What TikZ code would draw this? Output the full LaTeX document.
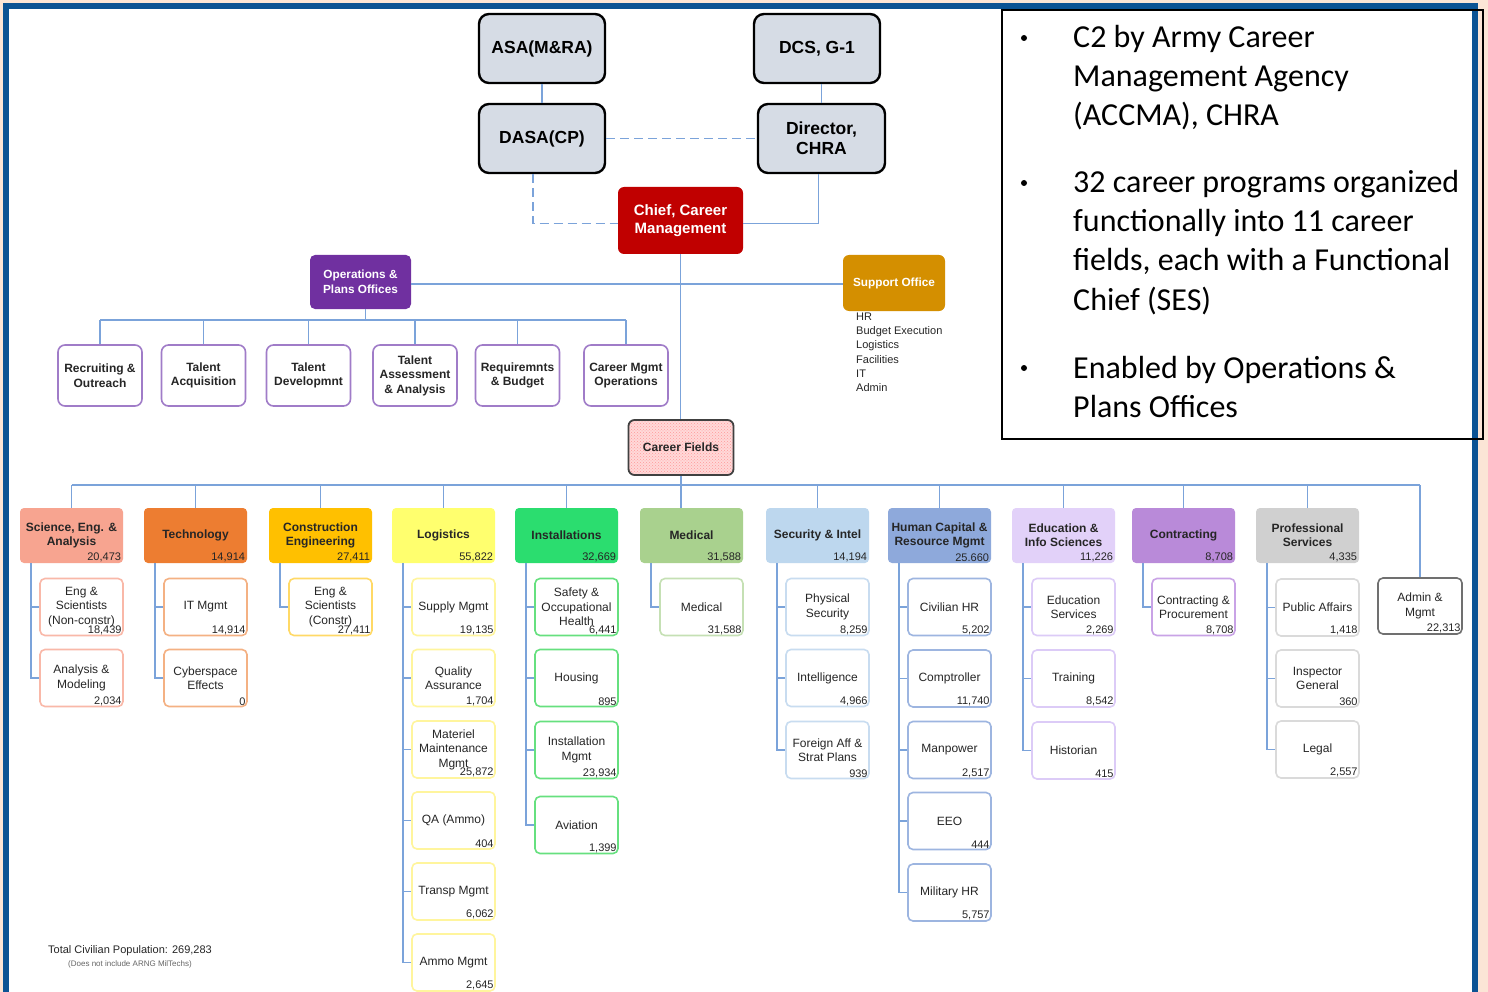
\documentclass[tikz,border=0pt]{standalone}
\usepackage{fontspec}
\setmainfont{Liberation Sans}
\newfontfamily\calfont{Carlito}
\usetikzlibrary{patterns}
\definecolor{peach}{HTML}{FBE5D6}
\definecolor{frameblue}{HTML}{0B5394}
\definecolor{lnc}{HTML}{7BA3DA}
\definecolor{topgray}{HTML}{D6DCE5}
\definecolor{chiefred}{HTML}{C00000}
\definecolor{opspurple}{HTML}{7030A0}
\definecolor{opsborder}{HTML}{A07CC8}
\definecolor{supgold}{HTML}{D48F00}
\definecolor{cfpink}{HTML}{FFD9D9}
\definecolor{txt}{HTML}{262626}
% header fills / child borders
\definecolor{seaH}{HTML}{F7A490}\definecolor{seaC}{HTML}{F9B8A8}
\definecolor{tecH}{HTML}{ED7D31}\definecolor{tecC}{HTML}{F4B183}
\definecolor{ceH}{HTML}{FFC000}\definecolor{ceC}{HTML}{FFD966}
\definecolor{logH}{HTML}{FFFF6E}\definecolor{logC}{HTML}{FFF59D}
\definecolor{insH}{HTML}{2BDD6F}\definecolor{insC}{HTML}{66E07F}
\definecolor{medH}{HTML}{A9D18E}\definecolor{medC}{HTML}{C5E0B4}
\definecolor{siH}{HTML}{BDD7EE}\definecolor{siC}{HTML}{C8DCF0}
\definecolor{hcH}{HTML}{8EA9DB}\definecolor{hcC}{HTML}{9DB5E0}
\definecolor{eduH}{HTML}{E2D1F9}\definecolor{eduC}{HTML}{DCCBF7}
\definecolor{conH}{HTML}{B98AD9}\definecolor{conC}{HTML}{C9A3E6}
\definecolor{psH}{HTML}{D0D0D0}\definecolor{psC}{HTML}{DADADA}
\definecolor{admC}{HTML}{707070}

\newcommand{\hdrbox}[5]{% name, left x, fill, title, number
  \node[hdr, fill=#3] (#1) at (#2+51.5, 535.5) {#4};
  \node[num] at (#1.south east) {#5};
  \draw[lnk] (#1.north |- bus) -- (#1.north);
}
\newcommand{\subbox}[7]{% name, parent, parent left x, centre y, border, title, number
  \node[sub, draw=#5] (#1) at (#3+61.5, #4) {#6};
  \node[num] at (#1.south east) {#7};
  \draw[lnk] ([xshift=11pt]#2.south west) |- (#1.west);
}

\begin{document}
\begin{tikzpicture}[x=1pt,y=-1pt,
  lnk/.style={draw=lnc, line width=1.8pt},
  topbox/.style={draw=black, line width=2.4pt, fill=topgray, rounded corners=10pt,
     minimum width=126pt, minimum height=69pt, align=center, inner sep=0pt,
     font=\bfseries\fontsize{17.5}{20}\selectfont, text=black},
  hdr/.style={rounded corners=4pt, minimum width=103pt, minimum height=55pt,
     align=center, inner sep=0pt, font=\bfseries\fontsize{12}{14}\selectfont, text=txt},
  sub/.style={fill=white, rounded corners=5pt, line width=1.6pt, minimum width=83pt,
     minimum height=57pt, align=center, inner sep=0pt,
     font=\fontsize{12}{14.5}\selectfont, text=txt},
  num/.style={anchor=south east, inner xsep=2pt, inner ysep=1.5pt,
     font=\fontsize{11}{13}\selectfont, text=txt},
  opsub/.style={fill=white, draw=opsborder, rounded corners=7pt, line width=1.6pt,
     minimum width=84pt, minimum height=61pt, align=center, inner sep=0pt,
     font=\bfseries\fontsize{12}{14.5}\selectfont, text=txt},
  bul/.style={anchor=base west, inner sep=0pt, font=\calfont\fontsize{32}{39}\selectfont, text=black}
]
\useasboundingbox (0,0) rectangle (1488,992);
% frame
\fill[peach] (0,0) rectangle (1488,992);
\fill[frameblue] (3,3) rectangle (1478,992);
\fill[white] (9,9) rectangle (1472,992);

% top hierarchy
\node[topbox] (asa) at (542,48.5) {ASA(M\&RA)};
\node[topbox] (dcs) at (817,48.5) {DCS, G-1};
\node[topbox] (dasa) at (542,138.5) {DASA(CP)};
\node[topbox, minimum width=127pt] (dir) at (821.5,138.5) {Director,\\CHRA};
\node[fill=chiefred, rounded corners=6pt, minimum width=125pt, minimum height=67pt,
      align=center, inner sep=0pt, text=white,
      font=\bfseries\fontsize{15}{17.5}\selectfont] (chief) at (680.5,220.5) {Chief, Career\\Management};

\draw[lnk] (asa.south) -- (dasa.north);
\draw[lnk] (dcs.south -| dir.north) -- (dir.north);
\draw[lnk, dashed, dash pattern=on 9pt off 5pt] (dasa.east) -- (dir.west);
\draw[lnk, dashed, dash pattern=on 9pt off 5pt] ([xshift=-9pt]dasa.south) |- ([yshift=-3pt]chief.west);
\draw[lnk] ([xshift=-3pt]dir.south) |- ([yshift=-3pt]chief.east);

% ops & support
\node[fill=opspurple, rounded corners=5pt, minimum width=101pt, minimum height=54pt,
      align=center, inner sep=0pt, text=white,
      font=\bfseries\fontsize{11.8}{14.5}\selectfont] (ops) at (360.5,282) {Operations \&\\Plans Offices};
\node[fill=supgold, rounded corners=6pt, minimum width=102pt, minimum height=56pt,
      inner sep=0pt, text=white,
      font=\bfseries\fontsize{11.8}{14}\selectfont] (sup) at (894,283) {Support Office};
\node[anchor=north west, align=left, inner sep=0pt, text=txt,
      font=\fontsize{11}{14.3}\selectfont] (suplist) at (856,312.5)
      {HR\\Budget Execution\\Logistics\\Facilities\\IT\\Admin};

\node[draw=black!75, line width=1.8pt, rounded corners=6pt, preaction={fill=cfpink},
      pattern=crosshatch dots, pattern color=red!40, minimum width=105pt, minimum height=55pt,
      inner sep=0pt, text=txt, font=\bfseries\fontsize{12}{14}\selectfont] (cf) at (681,447.5) {Career Fields};

\draw[lnk] (chief.south) -- (chief.south |- cf.north);
\draw[lnk] ([yshift=-2pt]ops.east) -- ([yshift=-2pt]ops.east -| sup.west);

% ops children
\coordinate (obus) at (0,320);
\node[opsub] (rec) at (100,375.5) {Recruiting \&\\Outreach};
\node[opsub] (tac) at (203.5,375.5) {Talent\\Acquisition};
\node[opsub] (tdv) at (308.5,375.5) {Talent\\Developmnt};
\node[opsub] (taa) at (415,375.5) {Talent\\Assessment\\\& Analysis};
\node[opsub] (rqb) at (517.5,375.5) {Requiremnts\\\& Budget};
\node[opsub] (cmo) at (626,375.5) {Career Mgmt\\Operations};
\draw[lnk] ([xshift=5pt]ops.south) -- ([xshift=5pt]ops.south |- obus);
\draw[lnk] (rec.north |- obus) -- (cmo.north |- obus);
\foreach \n in {rec,tac,tdv,taa,rqb,cmo} \draw[lnk] (\n.north |- obus) -- (\n.north);

% career field bus
\coordinate (bus) at (0,485);
\coordinate (busR) at (1420,485);
\draw[lnk] (71.5,485) -- (busR);

\hdrbox{sea}{20}{seaH}{Science, Eng. \&\\Analysis}{20,473}
\hdrbox{tec}{144}{tecH}{Technology}{14,914}
\hdrbox{ce}{269}{ceH}{Construction\\Engineering}{27,411}
\hdrbox{log}{392}{logH}{Logistics}{55,822}
\hdrbox{ins}{515}{insH}{Installations}{32,669}
\node[hdr, fill=medH] (med) at (691.5,535.5) {Medical};
\node[num] at (med.south east) {31,588};
\draw[lnk] (cf.south) -- (cf.south |- med.north);
\hdrbox{si}{766}{siH}{Security \& Intel}{14,194}
\hdrbox{hc}{888}{hcH}{Human Capital \&\\Resource Mgmt}{25.660}
\hdrbox{edu}{1012}{eduH}{Education \&\\Info Sciences}{11,226}
\hdrbox{con}{1132}{conH}{Contracting}{8,708}
\hdrbox{ps}{1256}{psH}{Professional\\Services}{4,335}

\node[sub, draw=admC, minimum width=84pt, minimum height=56pt] (adm) at (1420,606) {Admin \&\\Mgmt};
\node[num] at (adm.south east) {22,313};
\draw[lnk] (busR) -- (adm.north);

% sub boxes
\subbox{sea1}{sea}{20}{607}{seaC}{Eng \&\\Scientists\\(Non-constr)}{18,439}
\subbox{sea2}{sea}{20}{678}{seaC}{Analysis \&\\Modeling}{2,034}

\subbox{tec1}{tec}{144}{607}{tecC}{IT Mgmt}{14,914}
\subbox{tec2}{tec}{144}{678}{tecC}{Cyberspace\\Effects}{0}

\subbox{ce1}{ce}{269}{607}{ceC}{Eng \&\\Scientists\\(Constr)}{27,411}

\subbox{log1}{log}{392}{607}{logC}{Supply Mgmt}{19,135}
\subbox{log2}{log}{392}{678}{logC}{Quality\\Assurance}{1,704}
\subbox{log3}{log}{392}{749.5}{logC}{Materiel\\Maintenance\\Mgmt}{25,872}
\subbox{log4}{log}{392}{820.5}{logC}{QA (Ammo)}{404}
\subbox{log5}{log}{392}{891.5}{logC}{Transp Mgmt}{6,062}
\subbox{log6}{log}{392}{962.5}{logC}{Ammo Mgmt}{2,645}

\subbox{ins1}{ins}{515}{607}{insC}{Safety \&\\Occupational\\Health}{6,441}
\subbox{ins2}{ins}{515}{678}{insC}{Housing}{895}
\subbox{ins3}{ins}{515}{750}{insC}{Installation\\Mgmt}{23,934}
\subbox{ins4}{ins}{515}{825}{insC}{Aviation}{1,399}

\subbox{med1}{med}{640}{607}{medC}{Medical}{31,588}

\subbox{si1}{si}{766}{607}{siC}{Physical\\Security}{8,259}
\subbox{si2}{si}{766}{678}{siC}{Intelligence}{4,966}
\subbox{si3}{si}{766}{750}{siC}{Foreign Aff \&\\Strat Plans}{939}

\subbox{hc1}{hc}{888}{607}{hcC}{Civilian HR}{5,202}
\subbox{hc2}{hc}{888}{678.5}{hcC}{Comptroller}{11,740}
\subbox{hc3}{hc}{888}{750}{hcC}{Manpower}{2,517}
\subbox{hc4}{hc}{888}{821}{hcC}{EEO}{444}
\subbox{hc5}{hc}{888}{892.5}{hcC}{Military HR}{5,757}

\subbox{edu1}{edu}{1012}{607}{eduC}{Education\\Services}{2,269}
\subbox{edu2}{edu}{1012}{678.5}{eduC}{Training}{8,542}
\subbox{edu3}{edu}{1012}{750.5}{eduC}{Historian}{415}

\subbox{con1}{con}{1132}{607}{conC}{Contracting \&\\Procurement}{8,708}

\subbox{ps1}{ps}{1256}{607.5}{psC}{Public Affairs}{1,418}
\subbox{ps2}{ps}{1256}{678.5}{psC}{Inspector\\General}{360}
\subbox{ps3}{ps}{1256}{749.5}{psC}{Legal}{2,557}

% total
\node[inner sep=0pt, text=txt, font=\fontsize{11}{13}\selectfont] (tot) at (130,951) {Total Civilian Population: 269,283};
\node[inner sep=0pt, text=black!60, font=\fontsize{8}{9}\selectfont] (totn) at (130,964.5) {(Does not include ARNG MilTechs)};

% right text box
\draw[black, line width=1.8pt] (1002,10) rectangle (1483,439);
\fill[black] (1024,38) circle (3pt);
\fill[black] (1024,183) circle (3pt);
\fill[black] (1024,368) circle (3pt);
\node[bul] at (1073,48) {C2 by Army Career};
\node[bul] at (1073,87) {Management Agency};
\node[bul] at (1073,126) {(ACCMA), CHRA};
\node[bul] at (1073,193) {32 career programs organized};
\node[bul] at (1073,232) {functionally into 11 career};
\node[bul] at (1073,271) {fields, each with a Functional};
\node[bul] at (1073,310) {Chief (SES)};
\node[bul] at (1073,378) {Enabled by Operations \&};
\node[bul] at (1073,417) {Plans Offices};
\end{tikzpicture}
\end{document}
